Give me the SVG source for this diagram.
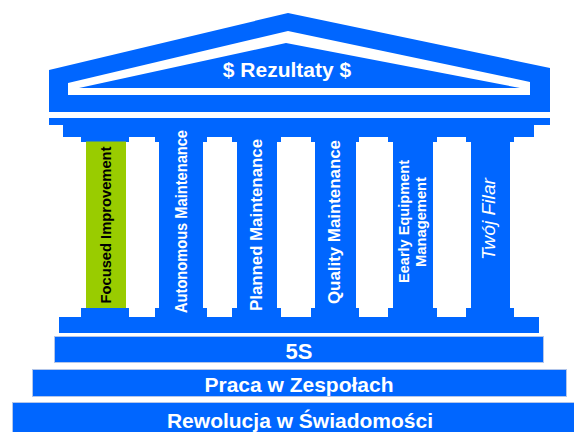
<svg xmlns="http://www.w3.org/2000/svg" width="574" height="432" viewBox="0 0 574 432">
<style>
.b{fill:#0066ff}
.w{fill:#ffffff}
.step{fill:#0066ff;stroke:#b3c6ea;stroke-width:1}
.t{font-family:"Liberation Sans",Arial,Helvetica,sans-serif;font-weight:bold;fill:#ffffff;text-anchor:middle}
.k{fill:#000000}
.i{font-weight:normal;font-style:italic}
</style>
<rect width="574" height="432" fill="#ffffff"/>
<g id="roof">
<polygon class="b" points="49,70 288,13 550,68 550,112 49,112"/>
<polygon class="w" points="68,83 288,31 530,82 530,95 68,95"/>
<polygon class="b" points="79,88 286,43 520,88"/>
<text class="t" x="287" y="77" font-size="21">$ Rezultaty $</text>
</g>
<g id="entablature">
<rect class="b" x="49" y="118" width="501" height="7"/>
<rect class="b" x="63" y="125" width="471" height="12"/>
</g>
<g id="col-focused">
<polygon class="b" points="81,137 129,137 129,142 126,142 126,308 129,308 129,317 81,317 81,308 86,308 86,142 81,142"/>
<rect x="86" y="141.5" width="40" height="166.5" fill="#99cc00"/>
<text class="t k" transform="translate(111,225) rotate(-90)" font-size="15" textLength="157" lengthAdjust="spacingAndGlyphs">Focused Improvement</text>
</g>
<g id="col-autonomous">
<polygon class="b" points="155,137 207,137 207,142 203,142 203,308 207,308 207,317 155,317 155,308 159,308 159,142 155,142"/>
<text class="t" transform="translate(186.5,221.5) rotate(-90)" font-size="16" textLength="183" lengthAdjust="spacingAndGlyphs">Autonomous Maintenance</text>
</g>
<g id="col-planned">
<polygon class="b" points="232,137 281,137 281,142 277,142 277,308 281,308 281,317 232,317 232,308 237,308 237,142 232,142"/>
<text class="t" transform="translate(261.5,225) rotate(-90)" font-size="17" textLength="172" lengthAdjust="spacingAndGlyphs">Planned Maintenance</text>
</g>
<g id="col-quality">
<polygon class="b" points="311,137 359,137 359,142 356,142 356,308 359,308 359,317 311,317 311,308 315,308 315,142 311,142"/>
<text class="t" transform="translate(340,222) rotate(-90)" font-size="17" textLength="164" lengthAdjust="spacingAndGlyphs">Quality Maintenance</text>
</g>
<g id="col-early">
<polygon class="b" points="388,137 437,137 437,142 433,142 433,308 437,308 437,317 388,317 388,308 393,308 393,142 388,142"/>
<text class="t" transform="translate(408.5,221.5) rotate(-90)" font-size="14.5" textLength="123" lengthAdjust="spacingAndGlyphs">Eearly Equipment</text>
<text class="t" transform="translate(425.5,222) rotate(-90)" font-size="14.5" textLength="90" lengthAdjust="spacingAndGlyphs">Management</text>
</g>
<g id="col-twoj">
<polygon class="b" points="466,137 514,137 514,142 510,142 510,308 514,308 514,317 466,317 466,308 471,308 471,142 466,142"/>
<text class="t i" transform="translate(495,219) rotate(-90)" font-size="18.5" textLength="82" lengthAdjust="spacingAndGlyphs">Twój Filar</text>
</g>
<g id="stylobate">
<rect class="b" x="59" y="317" width="480" height="16"/>
</g>
<g id="step-5s">
<rect class="step" x="54.5" y="336.5" width="489" height="26"/>
<text class="t" x="299" y="359" font-size="22">5S</text>
</g>
<g id="step-praca">
<rect class="step" x="32.5" y="369.5" width="534" height="27"/>
<text class="t" x="299" y="392" font-size="21">Praca w Zespołach</text>
</g>
<g id="step-rewolucja">
<rect class="step" x="12.5" y="402.5" width="570" height="40"/>
<text class="t" x="300" y="428" font-size="21">Rewolucja w Świadomości</text>
</g>
<g id="connectors"/>
</svg>
